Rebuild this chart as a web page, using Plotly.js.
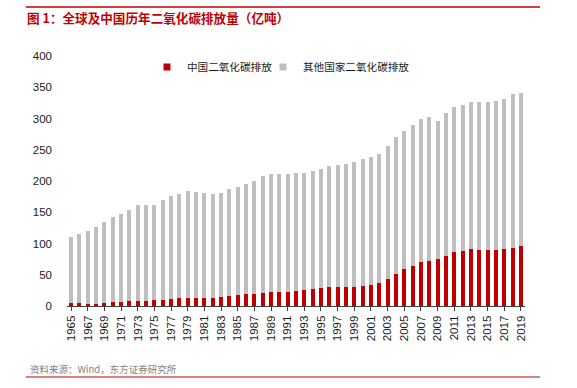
<!DOCTYPE html>
<html>
<head>
<meta charset="utf-8">
<script src="https://cdn.plot.ly/plotly-3.0.1.min.js"></script>
<style>
  html, body { margin: 0; padding: 0; background: #ffffff; }
  #chart { width: 577px; height: 388px; }
</style>
</head>
<body>
<div id="chart"></div>
<script>
const years = ['1965','1966','1967','1968','1969','1970','1971','1972','1973','1974',
  '1975','1976','1977','1978','1979','1980','1981','1982','1983','1984',
  '1985','1986','1987','1988','1989','1990','1991','1992','1993','1994',
  '1995','1996','1997','1998','1999','2000','2001','2002','2003','2004',
  '2005','2006','2007','2008','2009','2010','2011','2012','2013','2014',
  '2015','2016','2017','2018','2019'];

const chinaEmission = [4.2, 4.4, 3.6, 3.9, 4.5, 6.0, 7.0, 7.5, 8.3, 8.5,
  10.0, 10.2, 11.5, 12.8, 13.0, 12.8, 12.7, 13.6, 14.6, 16.0,
  17.6, 18.6, 20.0, 21.5, 21.8, 22.0, 23.2, 24.2, 25.8, 27.3,
  29.0, 30.0, 30.0, 30.0, 31.0, 32.0, 33.6, 36.3, 43.7, 51.2,
  59.7, 64.5, 70.4, 72.5, 75.2, 79.5, 86.4, 88.0, 90.7, 90.1,
  89.6, 89.6, 91.2, 92.8, 96.0];

const otherEmission = [106.8, 111.3, 116.4, 122.1, 129.5, 136.0, 140.0, 146.5, 153.7, 152.5,
  152.0, 159.8, 164.5, 166.2, 171.0, 169.2, 168.3, 165.4, 166.4, 171.0,
  173.4, 176.4, 180.5, 186.0, 189.2, 189.7, 188.5, 188.6, 187.2, 189.2,
  189.7, 194.5, 196.0, 197.0, 199.4, 203.7, 205.4, 207.7, 212.8, 218.8,
  220.8, 225.1, 229.3, 229.9, 221.3, 229.8, 232.6, 233.6, 235.7, 236.3,
  236.8, 238.9, 240.0, 245.9, 244.3];

const tickYears = ['1965','1967','1969','1971','1973','1975','1977','1979','1981','1983',
  '1985','1987','1989','1991','1993','1995','1997','1999','2001','2003',
  '2005','2007','2009','2011','2013','2015','2017','2019'];

const seriesNames = ['中国二氧化碳排放', '其他国家二氧化碳排放'];
const titleText = '图 1：全球及中国历年二氧化碳排放量（亿吨）';
const sourceText = '资料来源：Wind，东方证券研究所';

const RED = '#C00000';
const GREY = '#BFBFBF';
const FONT = 'Liberation Sans, Arial, Noto Sans CJK SC, sans-serif';
const CJK = 'Noto Sans CJK SC, Liberation Sans, sans-serif';

const traces = [
  { type: 'bar', x: years, y: chinaEmission, name: seriesNames[0],
    marker: { color: RED }, showlegend: false },
  { type: 'bar', x: years, y: otherEmission, name: seriesNames[1],
    marker: { color: GREY }, showlegend: false },
  { type: 'scatter', mode: 'markers', x: [null], y: [null], name: seriesNames[0],
    marker: { symbol: 'square', color: RED, size: 7 }, showlegend: true, legend: 'legend' },
  { type: 'scatter', mode: 'markers', x: [null], y: [null], name: seriesNames[1],
    marker: { symbol: 'square', color: GREY, size: 7 }, showlegend: true, legend: 'legend2' }
];

const legendStyle = (px) => ({
  orientation: 'h',
  x: (px - 67) / 458, xanchor: 'left', xref: 'paper',
  y: (306 - 67) / 250, yanchor: 'middle', yref: 'paper',
  font: { family: CJK, size: 10.6, color: '#1a1a1a' },
  itemwidth: 30,
  bgcolor: 'rgba(0,0,0,0)'
});

const layout = {
  width: 577, height: 388,
  margin: { l: 67, r: 52, t: 56, b: 82 },
  paper_bgcolor: '#ffffff', plot_bgcolor: '#ffffff',
  font: { family: FONT, size: 11.5, color: '#1a1a1a' },
  barmode: 'stack',
  bargap: 0.52,
  title: {
    text: '<b>' + titleText + '</b>',
    font: { family: CJK, size: 12.6, color: RED },
    x: 27 / 577, xanchor: 'left', xref: 'container',
    y: 1 - 19 / 388, yanchor: 'middle', yref: 'container'
  },
  xaxis: {
    type: 'category',
    tickmode: 'array', tickvals: tickYears, ticktext: tickYears,
    tickangle: -90,
    tickfont: { family: FONT, size: 11.5, color: '#1a1a1a' },
    showline: true, linecolor: '#404040', linewidth: 1,
    ticks: 'outside', ticklen: 4, tickcolor: '#404040', tickwidth: 1,
    showgrid: false, zeroline: false, fixedrange: true
  },
  yaxis: {
    range: [0, 400], dtick: 50, tick0: 0,
    showgrid: false, zeroline: false, showline: false, ticks: '',
    tickfont: { family: FONT, size: 11.5, color: '#1a1a1a' },
    ticklabelstandoff: 14, fixedrange: true
  },
  legend: legendStyle(147),
  legend2: legendStyle(263),
  shapes: [
    { type: 'line', xref: 'paper', yref: 'paper',
      x0: (26 - 67) / 458, x1: (540 - 67) / 458, y0: (306 - 7) / 250, y1: (306 - 7) / 250,
      line: { color: RED, width: 1.5 } },
    { type: 'line', xref: 'paper', yref: 'paper',
      x0: (26 - 67) / 458, x1: (540 - 67) / 458, y0: (306 - 377) / 250, y1: (306 - 377) / 250,
      line: { color: RED, width: 1.2 } }
  ],
  annotations: [
    { text: sourceText, showarrow: false,
      xref: 'paper', yref: 'paper',
      x: (28 - 67) / 458, xanchor: 'left',
      y: (306 - 369) / 250, yanchor: 'middle',
      font: { family: CJK, size: 9.5, color: '#7F7F7F' } }
  ]
};

Plotly.newPlot('chart', traces, layout, { displayModeBar: false, staticPlot: true });
</script>
</body>
</html>
